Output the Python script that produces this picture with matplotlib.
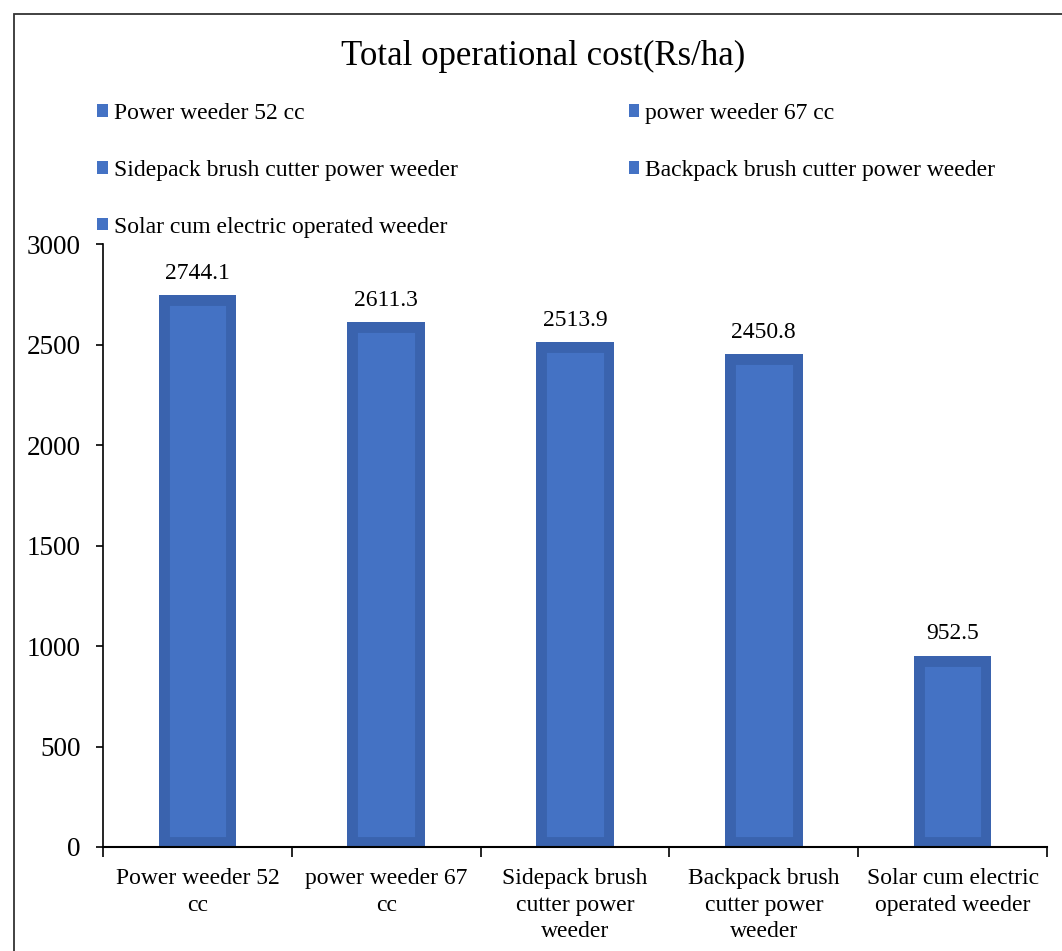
import matplotlib
matplotlib.use("Agg")
import matplotlib.pyplot as plt
from matplotlib.patches import Rectangle, Patch
import numpy as np

categories = ["Power weeder 52 cc", "power weeder 67 cc",
              "Sidepack brush cutter power weeder",
              "Backpack brush cutter power weeder",
              "Solar cum electric operated weeder"]
tick_labels = ["Power weeder 52\ncc", "power weeder 67\ncc",
               "Sidepack brush\ncutter power\nweeder",
               "Backpack brush\ncutter power\nweeder",
               "Solar cum electric\noperated weeder"]
values = [2744.1, 2611.3, 2513.9, 2450.8, 952.5]
value_labels = ["2744.1", "2611.3", "2513.9", "2450.8", "952.5"]
yticks = [0, 500, 1000, 1500, 2000, 2500, 3000]
title = "Total operational cost(Rs/ha)"

plt.rcParams['font.family'] = ['Liberation Serif', 'DejaVu Serif']

W, H = 1062, 951
fig = plt.figure(figsize=(W / 100, H / 100), dpi=100)
ax = fig.add_axes([103 / W, 1 - 847 / H, (1047 - 103) / W, (847 - 244) / H])

face = "#4472C4"
edge = "#3A63AE"
x = np.arange(len(values))
bars = ax.bar(x, values, width=0.41, color=face, edgecolor=edge, linewidth=15,
              zorder=2)
for b in bars:
    b.set_clip_path(b)

for xi, v, lab in zip(x, values, value_labels):
    ax.annotate(lab, (xi, v), xytext=(0, 8), textcoords="offset points",
                ha="center", va="bottom", fontsize=17, color="black")

ax.set_xlim(-0.5, len(values) - 0.5)
ax.set_ylim(0, 3000)
ax.set_yticks(yticks)
ax.set_yticklabels([str(t) for t in yticks], fontsize=19.5)
ax.set_xticks(np.arange(len(values) + 1) - 0.5)
ax.set_xticklabels([])
ax.set_xticks(x, minor=True)
ax.set_xticklabels(tick_labels, minor=True, fontsize=17, linespacing=1.36,
                   va="top")
ax.tick_params(axis="x", which="minor", length=0, pad=15)
ax.tick_params(axis="x", which="major", length=7, width=1.2, direction="out")
ax.tick_params(axis="y", length=5, width=1.2, direction="out", pad=11)

for s in ["top", "right"]:
    ax.spines[s].set_visible(False)
ax.spines["left"].set_linewidth(1.2)
ax.spines["bottom"].set_linewidth(1.5)

fig.text(543 / W, 1 - 56 / H, title, ha="center", va="center", fontsize=25)

order = [0, 2, 4, 1, 3]
handles = [Patch(facecolor=face, edgecolor="none") for _ in categories]
leg = fig.legend([handles[i] for i in order], [categories[i] for i in order],
                 ncol=2, loc="upper left",
                 bbox_to_anchor=(76 / W, 1 - 82 / H), frameon=False,
                 fontsize=17, handlelength=0.45, handleheight=0.45,
                 handletextpad=0.25, columnspacing=7.25, labelspacing=1.51)

fig.patches.append(Rectangle((14 / W, -0.05), 1.2, 1 - 14 / H + 0.05,
                             transform=fig.transFigure, fill=False,
                             edgecolor="#333333", linewidth=1.3))

fig.savefig("out.png", dpi=100)
